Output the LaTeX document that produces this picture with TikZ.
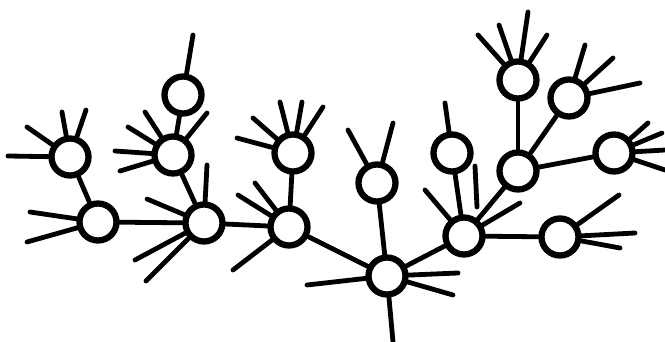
\documentclass[tikz,border=0pt]{standalone}
\begin{document}
\begin{tikzpicture}[x=1pt,y=-1pt,
  cnode/.style={circle,draw=black,line width=6.3pt,minimum size=37pt,inner sep=0pt,fill=white},
  link/.style={line width=4.8pt,line cap=round},
  stub/.style={line width=4.8pt,line cap=round}]
\useasboundingbox (0,0) rectangle (665,342);
% nodes
\node[cnode] (A) at (70,157) {};
\node[cnode] (B) at (98,222) {};
\node[cnode] (C) at (173,155) {};
\node[cnode] (D) at (183,95) {};
\node[cnode] (E) at (204,223) {};
\node[cnode] (F) at (293,153) {};
\node[cnode] (G) at (289,227) {};
\node[cnode] (H) at (377,183) {};
\node[cnode] (I) at (387,276) {};
\node[cnode] (J) at (452,153) {};
\node[cnode] (K) at (518,80) {};
\node[cnode] (L) at (569,98) {};
\node[cnode] (M) at (518,171) {};
\node[cnode] (N) at (614,153) {};
\node[cnode] (O) at (464,236) {};
\node[cnode] (P) at (560,237) {};
% connectors
\foreach \a/\b in {A/B,B/E,D/C,C/E,F/G,E/G,G/I,H/I,I/O,J/O,O/M,M/K,M/L,M/N,O/P}
  \draw[link] (\a) -- (\b);
% stubs
\foreach \n/\x/\y in {
  A/8/156, A/27/127, A/62/112, A/86/110,
  B/30/212, B/27/242,
  C/115/151, C/120/171, C/128/127, C/145/112, C/207/113,
  D/193/35,
  E/207/165, E/147/199, E/135/260, E/146/281,
  F/237/138, F/253/118, F/280/102, F/302/102, F/323/107,
  G/238/195, G/255/183, G/233/270,
  H/348/130, H/393/123,
  I/307/285, I/393/342, I/458/273, I/453/295,
  J/445/103,
  O/425/190, O/520/203,
  K/478/35, K/499/25, K/528/12, K/547/35,
  L/585/45, L/613/58, L/640/83,
  N/648/123, N/662/133, N/665/150, N/665/170,
  P/619/195, P/635/233, P/620/248}
  \draw[stub] (\n) -- (\x,\y);
\coordinate (s1) at (475,166);
\coordinate (s2) at (477,207);
\draw[stub] (s1) -- (s2);
\end{tikzpicture}
\end{document}
